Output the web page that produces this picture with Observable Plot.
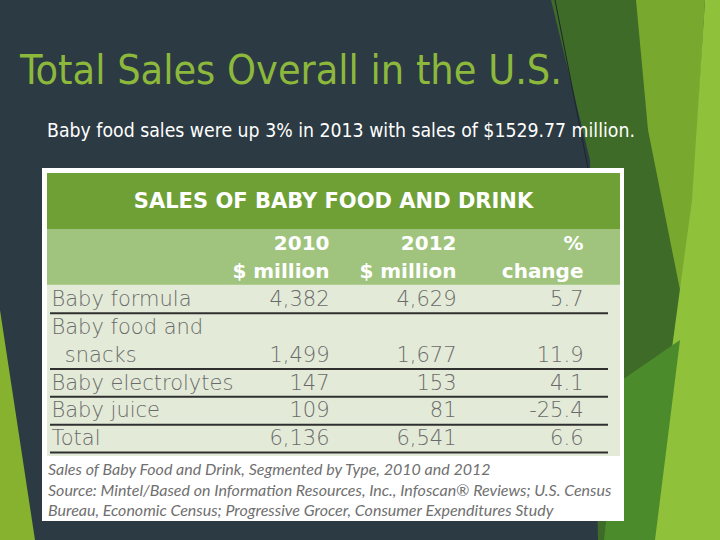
<!DOCTYPE html>
<html>
<head>
<meta charset="utf-8">
<script src="https://cdn.jsdelivr.net/npm/d3@7"></script>
<script src="https://cdn.jsdelivr.net/npm/@observablehq/plot@0.6"></script>
<style>
  html, body { margin: 0; padding: 0; }
  body { width: 720px; height: 540px; background: #2c3a43; position: relative; overflow: hidden; }
  #decor { position: absolute; left: 0; top: 0; }
  #title { position: absolute; left: 20px; top: 46px; font-family: "DejaVu Sans Condensed", "DejaVu Sans", sans-serif; font-size: 41px; color: #8cb83c; white-space: nowrap; }
  #subtitle { position: absolute; left: 47px; top: 119px; font-family: "DejaVu Sans Condensed", "DejaVu Sans", sans-serif; font-size: 19.3px; color: #ffffff; white-space: nowrap; }
  #box { position: absolute; left: 42px; top: 168px; width: 582px; height: 353px; background: #ffffff; }
  #band { position: absolute; left: 5px; top: 5px; width: 573px; height: 56px; background: #6ea035; color: #fff; font-family: "DejaVu Sans", sans-serif; font-weight: 700; font-size: 21px; text-align: center; line-height: 56px; }
  #chart { position: absolute; left: 5px; top: 61px; }
  #caption { position: absolute; left: 6px; top: 291px; font-family: Lato, "Open Sans", sans-serif; font-style: italic; font-size: 16px; line-height: 20.5px; color: #707070; white-space: nowrap; }
</style>
</head>
<body>
<svg id="decor" width="720" height="540">
  <polygon points="0,310 35,540 0,540" fill="#86b22f"/>
  <polygon points="551,0 640,0 652,130 682,300 655,540 598,540 590,160" fill="#3e6b27"/>
  <polygon points="636,0 705,0 695,170 686,320 648,130" fill="#78a82d"/>
  <polygon points="705,0 720,0 720,540 635,540 665,400 692,200" fill="#8fc13a"/>
  <polygon points="622,380 680,340 655,540 604,540" fill="#4b8b2c"/>
  <line x1="555" y1="0" x2="588" y2="168" stroke="#1c262c" stroke-width="1"/>
</svg>
<div id="title">Total Sales Overall in the U.S.</div>
<div id="subtitle">Baby food sales were up 3% in 2013 with sales of $1529.77 million.</div>
<div id="box">
  <div id="band"></div>
  <div id="chart"></div>
  <div id="caption"></div>
</div>
<script>
// ---- data ----
const tableTitle = "SALES OF BABY FOOD AND DRINK";
const categories = ["Baby formula", "Baby food and\nsnacks", "Baby electrolytes", "Baby juice", "Total"];
const sales2010 = [4382, 1499, 147, 109, 6136];
const sales2012 = [4629, 1677, 153, 81, 6541];
const pctChange = [5.7, 11.9, 4.1, -25.4, 6.6];
const columnKeys = ["2010", "2012", "pct"];
const headLine1 = ["2010", "2012", "%"];
const headLine2 = ["$ million", "$ million", "change"];
const captionLines = [
  "Sales of Baby Food and Drink, Segmented by Type, 2010 and 2012",
  "Source: Mintel/Based on Information Resources, Inc., Infoscan\u00ae Reviews; U.S. Census",
  "Bureau, Economic Census; Progressive Grocer, Consumer Expenditures Study"
];

// ---- build line records ----
const fmtInt = d3.format(",");
const heads = [];
headLine1.forEach((t, i) => heads.push({slot: 0, col: columnKeys[i], text: t}));
headLine2.forEach((t, i) => heads.push({slot: 1, col: columnKeys[i], text: t}));
const nHead = 2;

const labels = [];
const cells = [];
const seps = [];
let slot = nHead;
categories.forEach((c, i) => {
  const parts = c.split("\n");
  parts.forEach((p, j) => labels.push({slot: slot + j, text: (j > 0 ? "\u00a0\u00a0" : "") + p}));
  const last = slot + parts.length - 1;
  cells.push({slot: last, col: "2010", text: fmtInt(sales2010[i])});
  cells.push({slot: last, col: "2012", text: fmtInt(sales2012[i])});
  cells.push({slot: last, col: "pct", text: pctChange[i].toFixed(1)});
  slot += parts.length;
  seps.push(slot);
});
const nSlots = slot;

const bodyFont = "'DejaVu Sans', sans-serif";
const chart = Plot.plot({
  width: 573,
  height: 227,
  marginTop: 0,
  marginBottom: 4,
  marginLeft: 0,
  marginRight: 0,
  style: {background: "#e3ebd8", fontFamily: bodyFont, overflow: "visible"},
  x: {type: "point", domain: columnKeys, range: [282, 536], padding: 0, axis: null},
  y: {domain: [0, nSlots], reverse: true, axis: null},
  marks: [
    Plot.rect([{y1: 0, y2: nHead}], {y1: "y1", y2: "y2", fill: "#a0c47e"}),
    Plot.ruleY(seps, {y: d => d, stroke: "#2f2f2f", strokeWidth: 2, insetLeft: 3, insetRight: 12}),
    Plot.text(heads, {x: "col", y: d => d.slot + 0.5, text: "text", textAnchor: "end", fill: "#ffffff", fontSize: 20, fontWeight: 700}),
    Plot.text(labels, {y: d => d.slot + 0.5, text: "text", frameAnchor: "left", dx: 4, textAnchor: "start", fill: "#6a6a6a", fontSize: 21, fontWeight: 200}),
    Plot.text(cells, {x: "col", y: d => d.slot + 0.5, text: "text", textAnchor: "end", fill: "#6a6a6a", fontSize: 21, fontWeight: 200})
  ]
});
document.getElementById("chart").appendChild(chart);
document.getElementById("band").textContent = tableTitle;
document.getElementById("caption").innerHTML = captionLines.map(l => `<div>${l}</div>`).join("");
</script>
</body>
</html>
